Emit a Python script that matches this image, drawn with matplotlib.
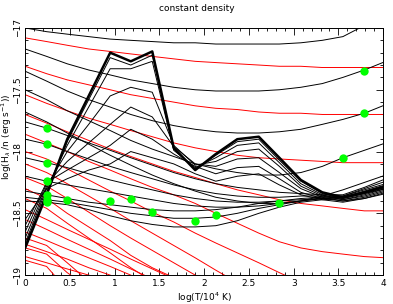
import matplotlib
matplotlib.use("Agg")
import matplotlib.pyplot as plt

# log(T/10^4 K) grid shared by all model curves
logt = [0.0, 0.24, 0.47, 0.71, 0.95, 1.18, 1.42, 1.66, 1.9, 2.13,
        2.37, 2.61, 2.84, 3.08, 3.32, 3.55, 3.79, 4.03]

# red curves
red_curves = [
    [-17.08, -17.11, -17.14, -17.17, -17.19, -17.21, -17.23, -17.25, -17.27, -17.28, -17.29, -17.30, -17.31, -17.31, -17.32, -17.32, -17.32, -17.32],
    [-17.31, -17.37, -17.42, -17.46, -17.50, -17.54, -17.57, -17.60, -17.63, -17.65, -17.66, -17.68, -17.69, -17.69, -17.70, -17.70, -17.70, -17.70],
    [-17.54, -17.61, -17.67, -17.73, -17.78, -17.83, -17.88, -17.93, -17.97, -18.00, -18.03, -18.05, -18.06, -18.07, -18.08, -18.09, -18.09, -18.09],
    [-17.70, -17.77, -17.84, -17.91, -17.98, -18.04, -18.10, -18.16, -18.21, -18.26, -18.31, -18.35, -18.39, -18.42, -18.44, -18.46, -18.48, -18.48],
    [-17.86, -17.93, -18.00, -18.08, -18.15, -18.22, -18.29, -18.35, -18.42, -18.50, -18.58, -18.66, -18.73, -18.78, -18.81, -18.83, -18.85, -18.86],
    [-18.00, -18.06, -18.14, -18.23, -18.32, -18.40, -18.49, -18.57, -18.66, -18.74, -18.82, -18.90, -18.98, -19.06],
    [-18.10, -18.17, -18.26, -18.36, -18.46, -18.56, -18.66, -18.76, -18.86, -18.96, -19.06],
    [-18.21, -18.28, -18.38, -18.49, -18.60, -18.70, -18.80, -18.90, -19.00, -19.10],
    [-18.30, -18.38, -18.50, -18.61, -18.72, -18.84, -18.94, -19.02, -19.12],
    [-18.38, -18.46, -18.58, -18.70, -18.82, -18.94, -19.05],
    [-18.47, -18.55, -18.63, -18.71, -18.79, -18.87, -18.95, -19.03],
    [-18.55, -18.63, -18.71, -18.79, -18.87, -18.95, -19.03],
    [-18.65, -18.72, -18.79, -18.86, -18.93, -19.00, -19.07],
    [-18.75, -18.81, -18.87, -18.94, -19.00, -19.06],
    [-18.85, -18.90, -18.95, -19.00, -19.05],
    [-18.70, -18.76, -18.90, -19.05],
    [-18.78, -18.83, -18.98, -19.10],
    [-18.88, -18.93, -19.12],
]

# black curves, smooth family
black_curves = [
    [-17.00, -17.03, -17.05, -17.07, -17.09, -17.10, -17.11, -17.12, -17.12, -17.13, -17.13, -17.13, -17.13, -17.12, -17.10, -17.07, -16.98, -16.92],
    [-17.17, -17.23, -17.29, -17.34, -17.38, -17.42, -17.45, -17.48, -17.50, -17.51, -17.51, -17.51, -17.50, -17.48, -17.45, -17.40, -17.34, -17.27],
    [-17.35, -17.43, -17.51, -17.58, -17.64, -17.70, -17.75, -17.79, -17.82, -17.84, -17.85, -17.85, -17.84, -17.82, -17.78, -17.74, -17.69, -17.62],
    [-17.50, -17.58, -17.67, -17.75, -17.83, -17.91, -17.98, -18.04, -18.10, -18.14, -18.17, -18.19, -18.19, -18.17, -18.12, -18.05, -17.99, -17.93],
    [-17.68, -17.76, -17.85, -17.94, -18.03, -18.11, -18.19, -18.26, -18.32, -18.37, -18.40, -18.42, -18.42, -18.40, -18.36, -18.31, -18.25, -18.19],
    [-17.76, -17.81, -17.87, -17.93, -17.99, -18.05, -18.11, -18.17, -18.22, -18.26, -18.29, -18.31, -18.33, -18.34, -18.35, -18.35, -18.29, -18.22],
    [-17.90, -17.94, -18.00, -18.06, -18.12, -18.17, -18.22, -18.27, -18.31, -18.34, -18.36, -18.37, -18.37, -18.36, -18.36, -18.36, -18.30, -18.24],
    [-18.05, -18.09, -18.13, -18.18, -18.23, -18.27, -18.31, -18.35, -18.38, -18.40, -18.41, -18.41, -18.40, -18.38, -18.37, -18.36, -18.31, -18.26],
    [-18.20, -18.24, -18.27, -18.30, -18.33, -18.36, -18.39, -18.42, -18.44, -18.45, -18.45, -18.44, -18.42, -18.40, -18.38, -18.37, -18.32, -18.27],
    [-18.32, -18.35, -18.38, -18.41, -18.43, -18.45, -18.47, -18.48, -18.48, -18.47, -18.45, -18.42, -18.40, -18.39, -18.38, -18.37, -18.33, -18.28],
    [-18.37, -18.39, -18.41, -18.44, -18.47, -18.50, -18.52, -18.54, -18.54, -18.53, -18.50, -18.46, -18.43, -18.40, -18.38, -18.37, -18.33, -18.29],
    [-18.40, -18.41, -18.43, -18.47, -18.52, -18.56, -18.59, -18.61, -18.61, -18.60, -18.56, -18.50, -18.45, -18.41, -18.39, -18.38, -18.34, -18.30],
]

# black curves with the big bump, first one drawn thick
bump_curves = [
    [-18.78, -18.35, -17.90, -17.55, -17.20, -17.27, -17.19, -17.97, -18.15, -18.02, -17.90, -17.88, -18.05, -18.23, -18.33, -18.37, -18.33, -18.28],
    [-18.76, -18.33, -17.92, -17.58, -17.24, -17.30, -17.22, -17.98, -18.14, -18.03, -17.92, -17.90, -18.07, -18.24, -18.34, -18.38, -18.34, -18.29],
    [-18.74, -18.30, -17.95, -17.64, -17.33, -17.33, -17.27, -17.99, -18.13, -18.05, -17.95, -17.93, -18.09, -18.26, -18.35, -18.39, -18.35, -18.30],
    [-18.70, -18.28, -18.00, -17.78, -17.55, -17.48, -17.52, -17.95, -18.11, -18.08, -18.00, -17.98, -18.12, -18.28, -18.36, -18.39, -18.36, -18.31],
    [-18.65, -18.26, -18.08, -17.93, -17.78, -17.64, -17.72, -17.96, -18.10, -18.12, -18.06, -18.05, -18.17, -18.30, -18.37, -18.40, -18.37, -18.32],
    [-18.60, -18.25, -18.15, -18.05, -17.95, -17.82, -17.90, -18.02, -18.12, -18.18, -18.13, -18.12, -18.22, -18.33, -18.38, -18.40, -18.38, -18.33],
    [-18.55, -18.30, -18.22, -18.15, -18.10, -18.00, -18.05, -18.10, -18.18, -18.24, -18.20, -18.18, -18.27, -18.35, -18.39, -18.41, -18.38, -18.34],
]

# green markers
green_x = [0.24, 0.24, 0.24, 0.24, 0.24, 0.24, 0.24, 0.47, 0.95, 1.18, 1.42, 1.9, 2.13, 2.84, 3.55, 3.79, 3.79]
green_y = [-17.81, -17.94, -18.09, -18.24, -18.35, -18.39, -18.41, -18.39, -18.40, -18.38, -18.49, -18.56, -18.51, -18.42, -18.05, -17.69, -17.35]

xticks = [0, 0.5, 1, 1.5, 2, 2.5, 3, 3.5, 4]
xtick_labels = ["0", "0.5", "1", "1.5", "2", "2.5", "3", "3.5", "4"]
yticks = [-19, -18.5, -18, -17.5, -17]
ytick_labels = ["\u221219", "\u221218.5", "\u221218", "\u221217.5", "\u221217"]

fig = plt.figure(figsize=(3.93, 3.04), dpi=100)
ax = fig.add_axes([0.064, 0.095, 0.911, 0.813])

for ys in red_curves:
    ax.plot(logt[:len(ys)], ys, color="#ff0000", lw=0.7)
for ys in black_curves:
    ax.plot(logt[:len(ys)], ys, color="black", lw=0.7)
for i, ys in enumerate(bump_curves):
    ax.plot(logt[:len(ys)], ys, color="black", lw=1.8 if i == 0 else 0.7)
ax.plot(green_x, green_y, "o", color="#00ff00", ms=6, mec="none", zorder=5)

ax.set_xlim(0, 4)
ax.set_ylim(-19, -17)
ax.set_xticks(xticks)
ax.set_xticklabels(xtick_labels)
ax.set_xticks([v / 10 for v in range(41)], minor=True)
ax.set_yticks(yticks)
ax.set_yticklabels(ytick_labels, rotation=90, va="center")
ax.set_yticks([-19 + v / 10 for v in range(21)], minor=True)
ax.tick_params(which="both", direction="in", top=True, right=True, labelsize=6.5)
ax.tick_params(axis="x", pad=3)
ax.tick_params(axis="y", pad=2)
ax.tick_params(which="major", length=5, width=0.6)
ax.tick_params(which="minor", length=2.5, width=0.6)
for s in ax.spines.values():
    s.set_linewidth(0.7)

fig.text(0.5, 0.972, "constant density", fontsize=6.5, ha="center", va="center")
fig.text(0.52, 0.022, "log(T/10$^4$ K)", fontsize=6.5, ha="center", va="center")
fig.text(0.018, 0.55, "log(H$_\\lambda$ /n (erg s$^{-1}$))", fontsize=6.5,
         ha="center", va="center", rotation=90)

fig.savefig("out.png", dpi=100)
